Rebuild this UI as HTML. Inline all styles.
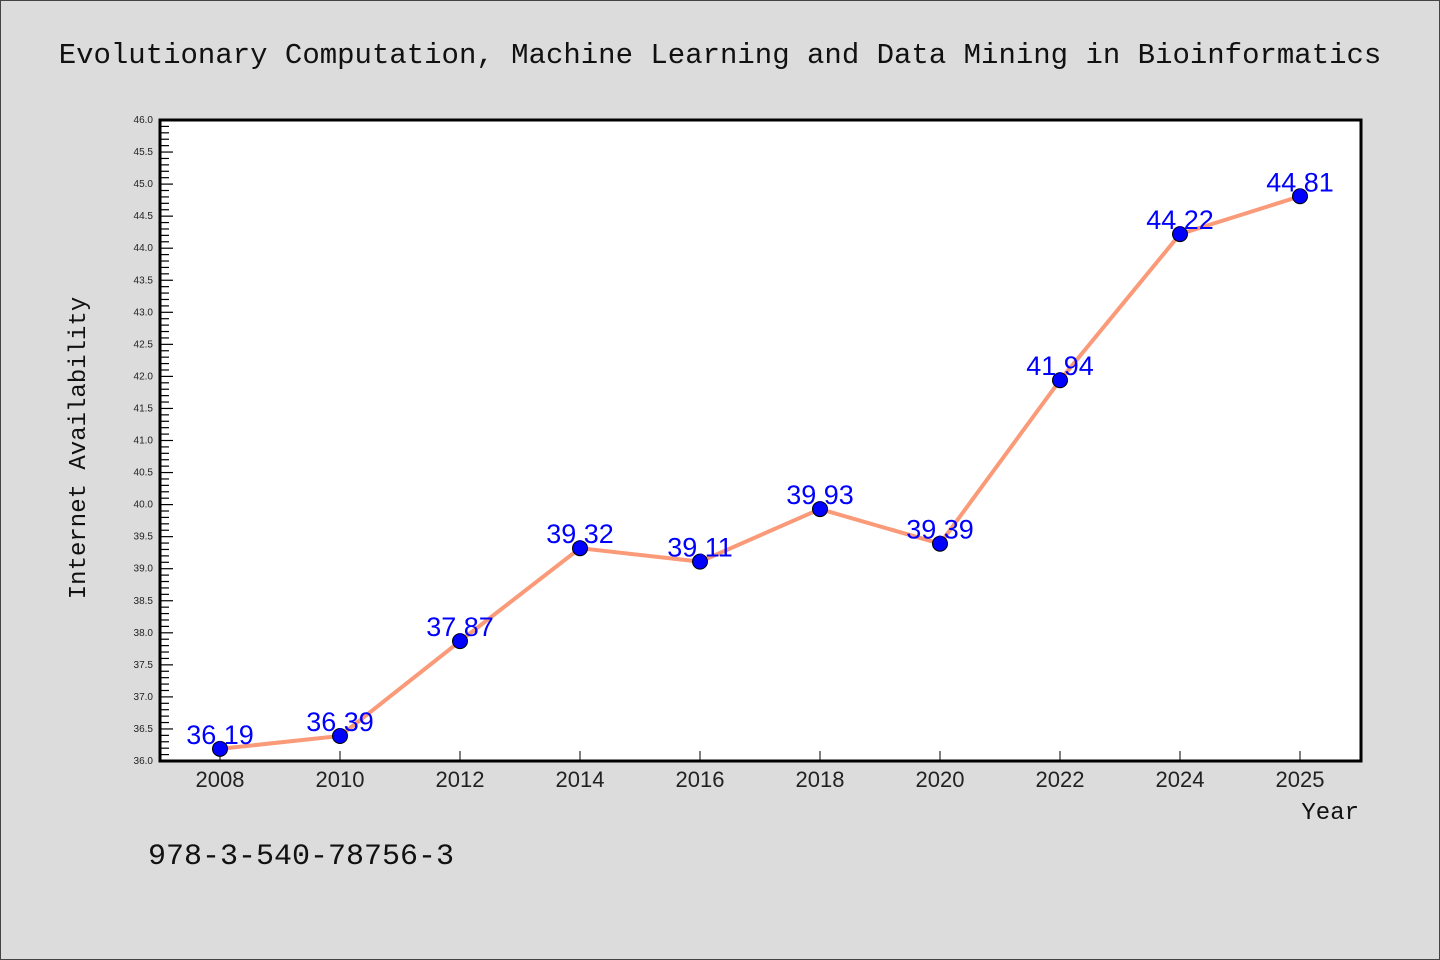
<!DOCTYPE html>
<html><head><meta charset="utf-8"><style>
body{margin:0;background:#dcdcdc;}
svg{display:block;font-family:"Liberation Sans","DejaVu Sans",sans-serif;}
</style></head><body>
<svg width="1440" height="960">
<rect x="0.5" y="0.5" width="1439" height="959" fill="#dcdcdc" stroke="#444"/>
<text x="720" y="63" text-anchor="middle" font-family="Liberation Mono,monospace" font-size="29" fill="#111">Evolutionary Computation, Machine Learning and Data Mining in Bioinformatics</text>
<rect x="160" y="120" width="1201" height="641" fill="#fff"/>
<g id="yaxis"></g>
<g id="xaxis"></g>
<g id="series"></g>
<rect x="160" y="120" width="1201" height="641" fill="none" stroke="#000" stroke-width="3"/>
<text transform="translate(85,448) rotate(-90)" text-anchor="middle" font-family="Liberation Mono,monospace" font-size="24" fill="#111">Internet Availability</text>
<text x="1359" y="819" text-anchor="end" font-family="Liberation Mono,monospace" font-size="24" fill="#111">Year</text>
<text x="148" y="864" font-family="Liberation Mono,monospace" font-size="30" fill="#111">978-3-540-78756-3</text>
</svg>
<script>
const categories=["2008","2010","2012","2014","2016","2018","2020","2022","2024","2025"];
const values=[36.19,36.39,37.87,39.32,39.11,39.93,39.39,41.94,44.22,44.81];
const yMin=36,yMax=46;
const NS="http://www.w3.org/2000/svg";
const L=160,R=1361,T=120,B=761;
function y(v){return B-(v-yMin)/(yMax-yMin)*(B-T);}
function x(i){return 220+i*120;}
function mk(t,a,p){const e=document.createElementNS(NS,t);for(const k in a)e.setAttribute(k,a[k]);p.appendChild(e);return e;}
const ya=document.getElementById('yaxis');
for(let k=0;k<=100;k++){const v=yMin+k*0.1;const yy=y(v);const major=k%5===0;
const t=mk('line',{x1:L,x2:L+(major?13:9),y1:yy,y2:yy,stroke:'#000','stroke-width':1.2},ya);


if(major){const tx=mk('text',{x:L-7,y:yy+3,'text-anchor':'end','font-size':10,fill:'#222'},ya);tx.textContent=v.toFixed(1);

}}
const xa=document.getElementById('xaxis');
categories.forEach((c,i)=>{const t=mk('line',{x1:x(i),x2:x(i),y1:B,y2:B-10,stroke:'#000','stroke-width':1},xa);


const tx=mk('text',{x:x(i),y:B+26,'text-anchor':'middle','font-size':22,fill:'#222'},xa);tx.textContent=c;

});
const s=document.getElementById('series');
const pl=mk('polyline',{points:values.map((v,i)=>x(i)+','+y(v)).join(' '),fill:'none',stroke:'#fa9a78','stroke-width':4},s);


values.forEach((v,i)=>{const c=mk('circle',{cx:x(i),cy:y(v),r:7.5,fill:'#0000ff',stroke:'#000','stroke-width':1},s);


const tx=mk('text',{x:x(i),y:y(v)-5,'text-anchor':'middle','font-size':27,fill:'#0000ff'},s);tx.textContent=v.toFixed(2);

});
</script>
</body></html>
